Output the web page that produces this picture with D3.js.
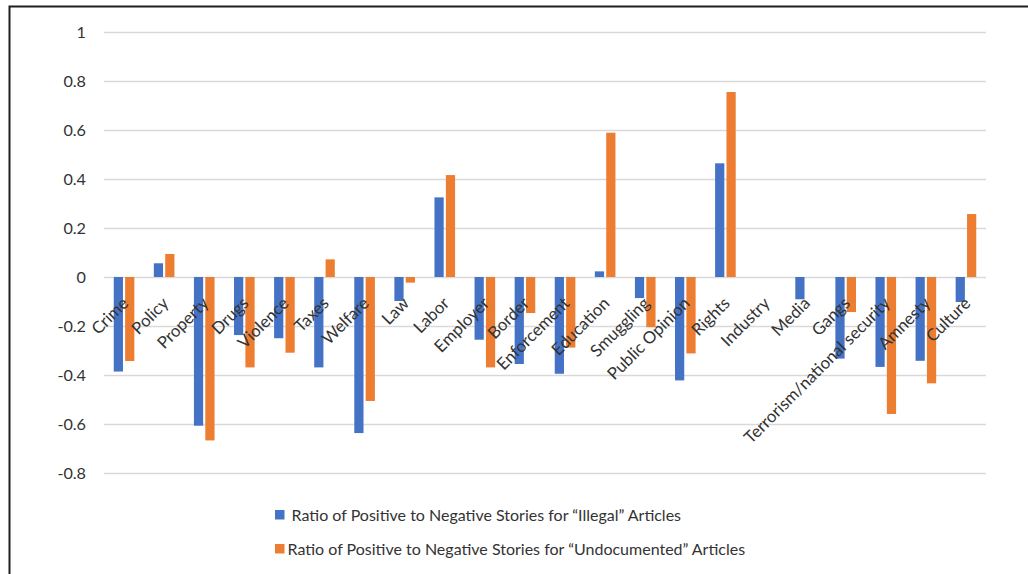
<!DOCTYPE html>
<html>
<head>
<meta charset="utf-8">
<script src="https://cdn.jsdelivr.net/npm/d3@7"></script>
<style>
  html, body { margin: 0; padding: 0; background: #fff; }
  svg { display: block; }
  text { font-family: Lato, "Open Sans", sans-serif; fill: #333; }
</style>
</head>
<body>
<svg id="chart" width="1028" height="574"></svg>
<script>
// Topic categories along the x axis
const categories = [
  "Crime", "Policy", "Property", "Drugs", "Violence", "Taxes", "Welfare", "Law",
  "Labor", "Employer", "Border", "Enforcement", "Education", "Smuggling",
  "Public Opinion", "Rights", "Industry", "Media", "Gangs",
  "Terrorism/national security", "Amnesty", "Culture"
];

// Ratio of positive to negative stories, per category
const illegalValues = [
  -0.386, 0.056, -0.607, -0.237, -0.250, -0.369, -0.637, -0.098,
  0.325, -0.256, -0.355, -0.395, 0.023, -0.086,
  -0.422, 0.464, 0, -0.091, -0.333,
  -0.367, -0.342, -0.102
];
const undocumentedValues = [
  -0.343, 0.094, -0.667, -0.369, -0.309, 0.072, -0.506, -0.023,
  0.416, -0.369, -0.147, -0.288, 0.589, -0.205,
  -0.312, 0.755, 0, 0, -0.143,
  -0.559, -0.434, 0.257
];

const seriesNames = [
  " Ratio of Positive to Negative Stories for \u201CIllegal\u201D Articles",
  "Ratio of Positive to Negative Stories for \u201CUndocumented\u201D Articles"
];
const seriesColors = ["#4472C4", "#ED7D31"];

// Value axis ticks
const yTicks = [1, 0.8, 0.6, 0.4, 0.2, 0, -0.2, -0.4, -0.6, -0.8];

const svg = d3.select("#chart");

// Outer frame (left and top edges)
svg.append("path")
  .attr("d", "M9.5,574 V6.5 H1028")
  .attr("fill", "none")
  .attr("stroke", "#1f1f1f")
  .attr("stroke-width", 2);

const plot = { left: 104, right: 986, top: 32, bottom: 473 };

const y = d3.scaleLinear()
  .domain([-0.8, 1])
  .range([plot.bottom, plot.top]);

const x0 = d3.scaleBand()
  .domain(categories)
  .range([plot.left, plot.right])
  .paddingInner(0.486)
  .paddingOuter(0.243);

const seriesKeys = [0, 1];
const x1 = d3.scaleBand()
  .domain(seriesKeys)
  .range([0, x0.bandwidth()])
  .paddingInner(0.19);

// Gridlines
const yAxisGrid = d3.axisLeft(y)
  .tickValues(yTicks)
  .tickSize(-(plot.right - plot.left))
  .tickFormat("");
const grid = svg.append("g")
  .attr("transform", `translate(${plot.left},0)`)
  .call(yAxisGrid);
grid.select(".domain").remove();
grid.selectAll(".tick line")
  .attr("stroke", "#d9d9d9")
  .attr("stroke-width", 1.3);

// Tick labels
const yAxis = d3.axisLeft(y)
  .tickValues(yTicks)
  .tickSize(0)
  .tickPadding(18)
  .tickFormat(d => String(+d.toFixed(1)));
const yAxisG = svg.append("g")
  .attr("transform", `translate(${plot.left},0)`)
  .call(yAxis);
yAxisG.select(".domain").remove();
yAxisG.selectAll("text")
  .style("font-family", "Lato, 'Open Sans', sans-serif")
  .style("font-size", "16.2px")
  .attr("fill", "#333");

// Bars
const rows = categories.map((c, i) => ({
  category: c,
  values: [illegalValues[i], undocumentedValues[i]]
}));

const groups = svg.append("g")
  .selectAll("g")
  .data(rows)
  .join("g")
  .attr("transform", d => `translate(${x0(d.category)},0)`);

groups.selectAll("rect")
  .data(d => seriesKeys.map(k => ({ key: k, value: d.values[k] })))
  .join("rect")
  .attr("x", d => x1(d.key))
  .attr("width", x1.bandwidth())
  .attr("y", d => Math.min(y(d.value), y(0)))
  .attr("height", d => Math.abs(y(d.value) - y(0)))
  .attr("fill", d => seriesColors[d.key]);

// Category labels, rotated next to the zero line
const labelY = 296;
svg.append("g")
  .selectAll("text")
  .data(categories)
  .join("text")
  .attr("transform", d => `translate(${x0(d) + x0.bandwidth() / 2 - 3},${labelY}) rotate(-45)`)
  .attr("text-anchor", "end")
  .attr("dy", "0.71em")
  .style("font-size", "16.8px")
  .text(d => d);

// Legend
const legendX = 275;
const legendRows = [515, 549];
const legend = svg.append("g")
  .selectAll("g")
  .data(seriesNames)
  .join("g")
  .attr("transform", (d, i) => `translate(${legendX},${legendRows[i]})`);
legend.append("rect")
  .attr("x", 0)
  .attr("y", -5)
  .attr("width", 9.5)
  .attr("height", 9.5)
  .attr("fill", (d, i) => seriesColors[i]);
legend.append("text")
  .attr("x", 12.5)
  .attr("y", 0)
  .attr("dy", "0.35em")
  .style("font-size", "16px")
  .style("white-space", "pre")
  .text(d => d);
</script>
</body>
</html>
